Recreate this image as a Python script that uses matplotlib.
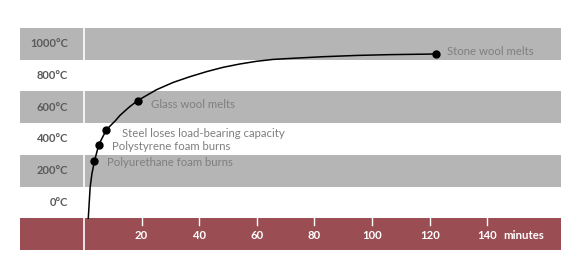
import matplotlib
matplotlib.use('Agg')
from matplotlib import pyplot as plt

# temperature bands (label values, degrees C)
band_labels = ['1000°C', '800°C', '600°C', '400°C', '200°C', '0°C']
band_values = [1000, 800, 600, 400, 200, 0]
shaded_bands = [1000, 600, 200]

# x axis
minute_ticks = [20, 40, 60, 80, 100, 120, 140]

# fire curve (minutes, degrees C)
curve_minutes = [1.5, 1.8, 2.15, 2.75, 3.65, 5.15, 7.8, 10.9, 12.4, 15.5, 18.6,
                 25.2, 31.0, 36.8, 42.6, 48.3, 54.1, 59.9, 65.7, 71.5, 83.1,
                 94.7, 106.2, 122.1]
curve_temp = [-100, -10, 95, 179, 261, 364, 459, 515, 547, 598, 642,
              711, 757, 793, 825, 852, 873, 890, 902, 908, 919,
              927, 932, 936]

# events on the curve
event_names = ['Polyurethane foam burns', 'Polystyrene foam burns',
               'Steel loses load-bearing capacity', 'Glass wool melts', 'Stone wool melts']
event_minutes = [3.65, 5.15, 7.8, 18.6, 122.1]
event_temp = [261, 364, 459, 642, 936]
label_offsets = [(9, -1), (9.5, -1), (11, -2.5), (10, -2.5), (8.5, 2)]

GRAY = '#b5b5b5'
RED = '#9a4e53'
FS = 8.2

plt.rcParams['font.family'] = ['Lato', 'DejaVu Sans']

fig = plt.figure(figsize=(5.77, 2.69), dpi=100)
ax = fig.add_axes([20 / 577, 19 / 269, 541 / 577, 222 / 269])
ax.set_xlim(-22.2, 165.6)
ax.set_ylim(-300, 1100)
ax.axis('off')

for v in shaded_bands:
	ax.axhspan(v - 100, v + 100, color=GRAY, lw=0, zorder=0)
ax.axhspan(-300, -100, color=RED, lw=0, zorder=0)
ax.axvline(0, color='white', lw=1.4, alpha=0.85, zorder=1)

for lab, v in zip(band_labels, band_values):
	ax.text(-5.6, v, lab, ha='right', va='center', fontsize=8,
	        fontweight='bold', color='#5a5a5a')

for t in minute_ticks:
	ax.plot([t, t], [-100, -145], color='white', lw=1.0, zorder=2)
	ax.text(t, -207, str(t), ha='center', va='center', fontsize=FS,
	        fontweight='bold', color='white')
ax.text(145.6, -207, 'minutes', ha='left', va='center', fontsize=FS,
        fontweight='bold', color='white')

ax.plot(curve_minutes, curve_temp, color='black', lw=1.1, zorder=3,
        solid_joinstyle='round')
ax.plot(event_minutes, event_temp, 'o', color='black', ms=5, zorder=4)

for name, t, v, off in zip(event_names, event_minutes, event_temp, label_offsets):
	ax.annotate(name, (t, v), xytext=off, textcoords='offset points',
	            ha='left', va='center', fontsize=FS, color='#7f7f7f')

fig.savefig('out.png', dpi=100)
